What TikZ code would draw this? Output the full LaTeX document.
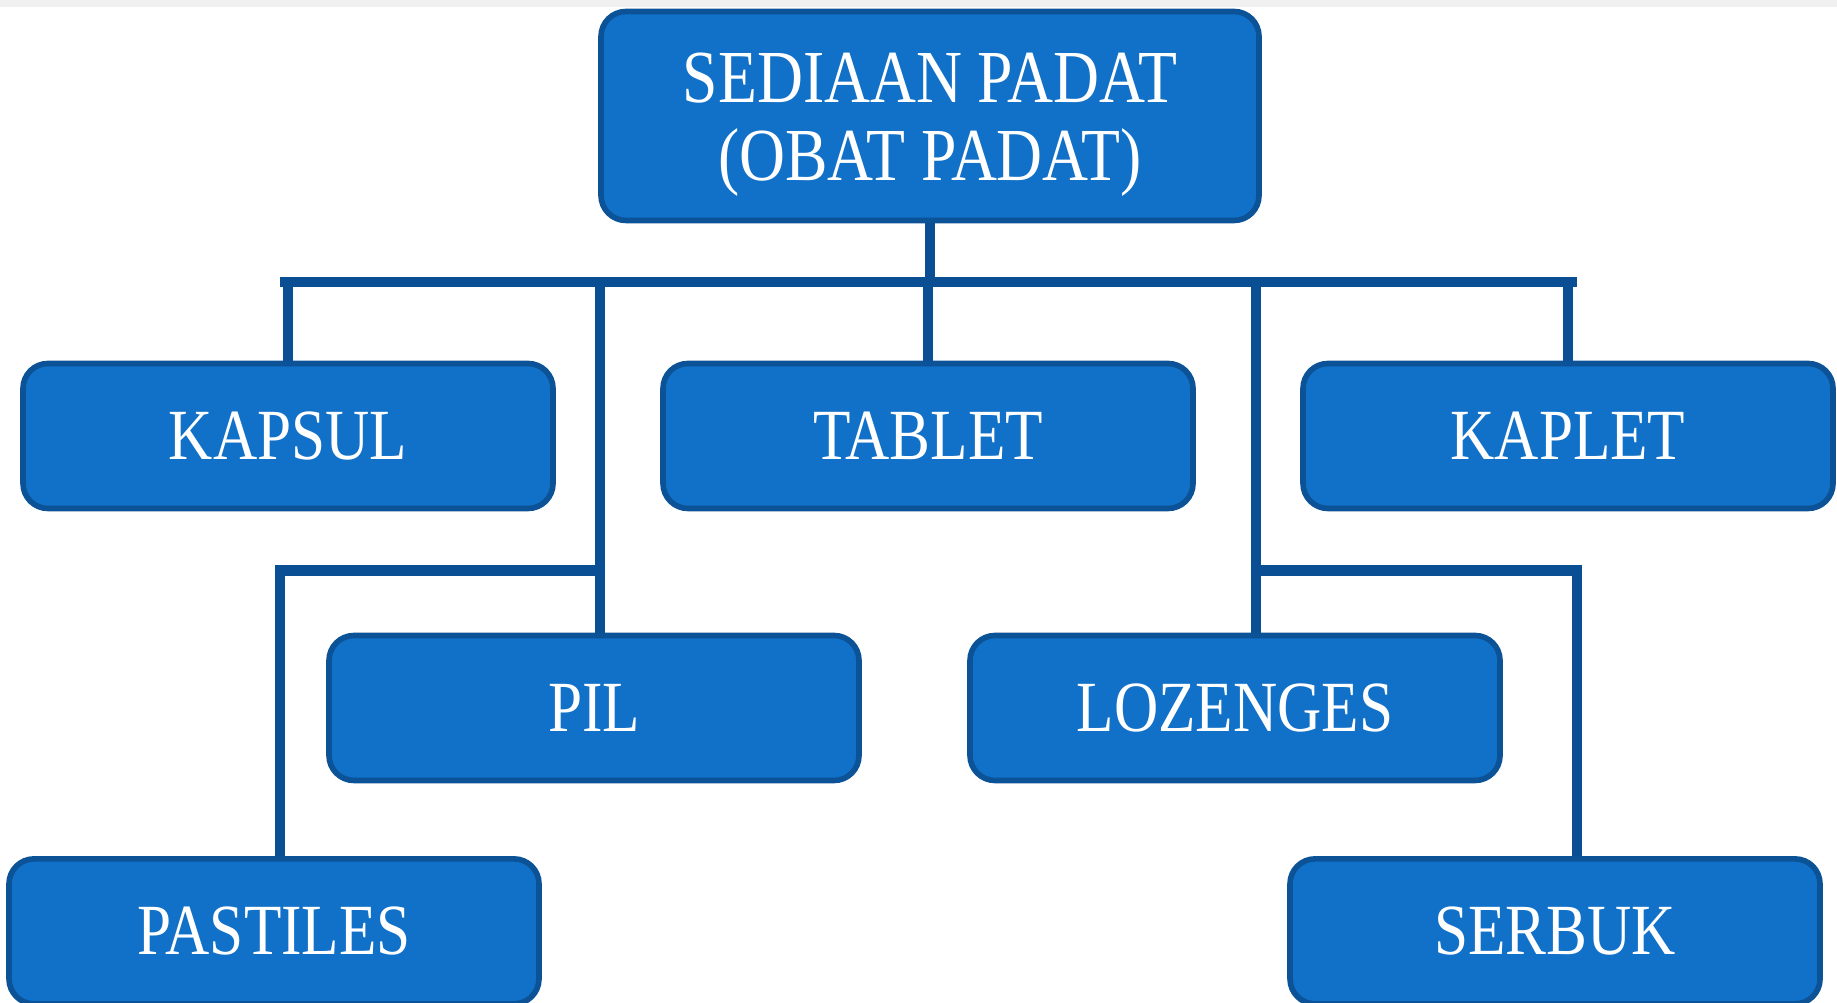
\documentclass[tikz,border=0pt]{standalone}
\usepackage{fontspec}
\setmainfont{Liberation Serif}[FakeStretch=0.85]
\definecolor{boxblue}{RGB}{17,112,199}
\definecolor{edgeblue}{RGB}{11,82,150}
\definecolor{lineblue}{RGB}{10,79,148}
\tikzset{
  jenisbox/.style={draw=edgeblue, line width=1.6pt, fill=boxblue, rounded corners=0.25cm,
    minimum width=5.30cm, minimum height=1.45cm, inner sep=0pt, text=white,
    align=center, font=\fontsize{20.5}{22}\selectfont},
  cabang/.style={draw=lineblue, line width=2.9pt}
}
\begin{document}
\begin{tikzpicture}
                \useasboundingbox (0,0) rectangle (18.37,10.03);
                % Thin grey band along the top edge
                \fill[gray!12] (0,9.96) rectangle (18.37,10.03);

                % Draw the main box
                \node[jenisbox, minimum width=6.58cm, minimum height=2.09cm,
                  font=\fontsize{21.3}{22.2}\selectfont] (padat) at (9.30,8.87)
                  {\rule{0pt}{19pt}SEDIAAN PADAT\\(OBAT PADAT)};

                % Draw the first row
                \node[jenisbox] (kapsul) at (2.88,5.67) {KAPSUL};
                \node[jenisbox] (tablet) at (9.28,5.67) {TABLET};
                \node[jenisbox] (kaplet) at (15.68,5.67) {KAPLET};

                % Draw the second row
                \node[jenisbox] (pil) at (5.94,2.95) {PIL};
                \node[jenisbox] (lozenges) at (12.35,2.95) {LOZENGES};

                % Draw the third row
                \node[jenisbox] (pastiles) at (2.74,0.716) {PASTILES};
                \node[jenisbox] (serbuk) at (15.55,0.716) {SERBUK};

                % Junction points of the connectors
                \coordinate (busL) at (2.80,7.206);
                \coordinate (busR) at (15.77,7.206);
                \coordinate (pilX) at (6.00,7.206);
                \coordinate (lozX) at (12.56,7.206);
                \coordinate (pilB) at (6.00,4.324);
                \coordinate (pastB) at (2.80,4.324);
                \coordinate (lozB) at (12.56,4.324);
                \coordinate (serbB) at (15.77,4.324);

                % Draw the bus and the drops to the first row
                \draw[cabang] (padat.south) -- (padat.south |- busL);
                \draw[cabang] (busL) -- (busR);
                \draw[cabang] (kapsul.north |- busL) -- (kapsul.north);
                \draw[cabang] (tablet.north |- busL) -- (tablet.north);
                \draw[cabang] (kaplet.north |- busL) -- (kaplet.north);

                % Draw the lines to the second and third rows
                \draw[cabang] (pilX) -- (pilX |- pil.north);
                \draw[cabang] (pilB) -- (pastB) -- (pastB |- pastiles.north);
                \draw[cabang] (lozX) -- (lozX |- lozenges.north);
                \draw[cabang] (lozB) -- (serbB) -- (serbB |- serbuk.north);
\end{tikzpicture}
\end{document}
